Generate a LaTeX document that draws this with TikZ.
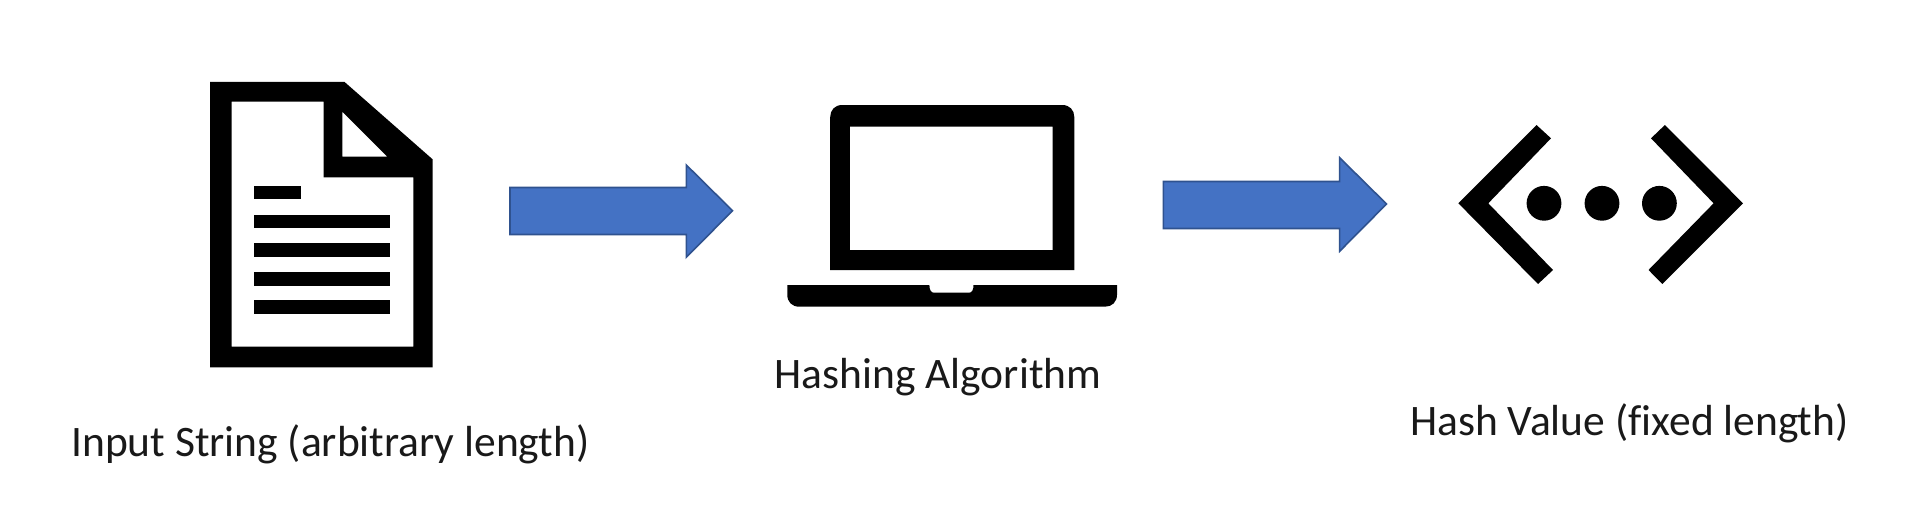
\documentclass[tikz,border=0pt]{standalone}
\usepackage{fontspec}
\setmainfont{Carlito}[Ligatures=NoCommon]
\definecolor{arrowblue}{HTML}{4472C4}
\definecolor{arrowedge}{HTML}{2F528F}
\tikzset{
  icon/.style={fill=black,draw=none,even odd rule},
  blockarrow/.style={fill=arrowblue,draw=arrowedge,line width=1.6pt,line join=miter},
  caption/.style={font=\fontsize{43.5}{52}\selectfont,text=black!90,inner sep=0pt,anchor=base west},
}
\begin{document}
\begin{tikzpicture}[x=1pt,y=-1pt]
\useasboundingbox (0,0) rectangle (1920,511);
\fill[white] (0,0) rectangle (1920,511);
% document icon
\fill[icon] (210,82) -- (344.6,82) -- (432.6,159.3) -- (432.6,367.3) -- (210,367.3) -- cycle
  (231.7,101.7) -- (323.5,101.7) -- (323.5,177.3) -- (413.4,177.3) -- (413.4,346.7) -- (231.7,346.7) -- cycle
  (342.3,111.7) -- (387.4,156.7) -- (342.3,156.7) -- cycle;
\fill (253.5,186) rectangle (301,199.3);
\fill (253.5,214.7) rectangle (389.7,228.3);
\fill (253.5,243) rectangle (389.7,257);
\fill (253.5,271.7) rectangle (389.7,285.7);
\fill (253.5,300) rectangle (389.7,314.3);
% first arrow
\draw[blockarrow] (510,187.5) -- (686.3,187.5) -- (686.3,165) -- (732.5,210.7) -- (686.3,257.3) -- (686.3,234.5) -- (510,234.5) -- cycle;
% laptop
\fill[icon] (830.2,270) -- (830.2,117) .. controls (830.2,110) and (835,105) .. (842.2,105) -- (1062.3,105) .. controls (1069.5,105) and (1074.3,110) .. (1074.3,117) -- (1074.3,270) -- cycle
  (849.8,126.7) rectangle (1052.7,250);
\fill (787.3,285) -- (929.4,285) .. controls (929.4,290) and (931,292.7) .. (934,292.7) -- (969,292.7) .. controls (972,292.7) and (973.5,290) .. (973.5,285) -- (1117,285) -- (1117,294.7) .. controls (1117,302) and (1112,306.7) .. (1105,306.7) -- (799.3,306.7) .. controls (792,306.7) and (787.3,302) .. (787.3,294.7) -- cycle;
% second arrow
\draw[blockarrow] (1163.4,181.5) -- (1339.6,181.5) -- (1339.6,157.7) -- (1386.5,204) -- (1339.6,251.3) -- (1339.6,228.5) -- (1163.4,228.5) -- cycle;
% hash symbol
\fill (1458.4,203.3) -- (1536.5,125) -- (1551,138.3) -- (1488.3,203.3) -- (1553,270) -- (1538,284) -- cycle;
\fill (1743,203.3) -- (1664.9,125) -- (1651,138.3) -- (1713.6,203.3) -- (1648.5,270) -- (1662.4,284) -- cycle;
\fill (1544,203.3) circle[radius=17.4];
\fill (1602,203.3) circle[radius=17.4];
\fill (1659.4,203.3) circle[radius=17.4];
% captions
\node[caption] (input) at (71,456) {Input String (arbitrary length)};
\node[caption] (algo) at (774.5,388.5) {Hashing Algorithm};
\node[caption] (hash) at (1410,435) {Hash Value (fixed length)};
\end{tikzpicture}
\end{document}
